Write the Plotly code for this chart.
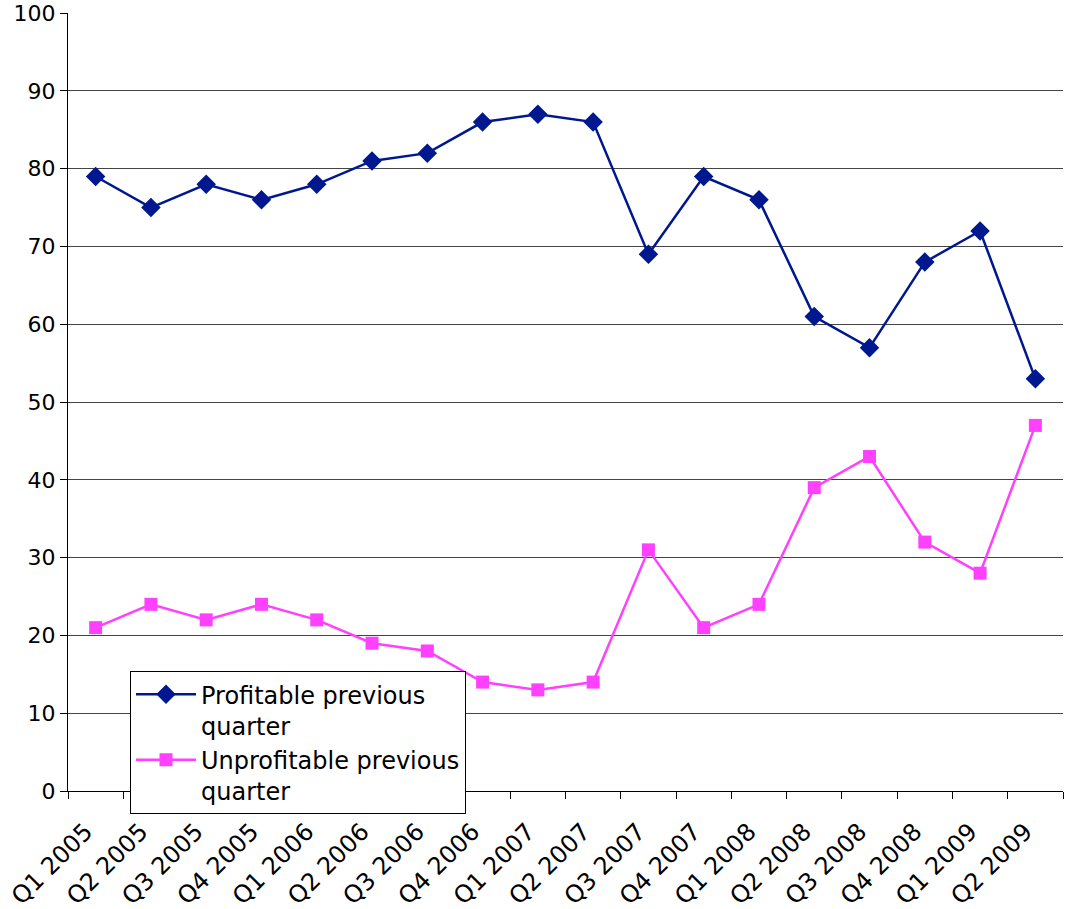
import plotly.graph_objects as go

quarters = ["Q1 2005", "Q2 2005", "Q3 2005", "Q4 2005", "Q1 2006", "Q2 2006",
            "Q3 2006", "Q4 2006", "Q1 2007", "Q2 2007", "Q3 2007", "Q4 2007",
            "Q1 2008", "Q2 2008", "Q3 2008", "Q4 2008", "Q1 2009", "Q2 2009"]
profitable = [79, 75, 78, 76, 78, 81, 82, 86, 87, 86, 69, 79, 76, 61, 57, 68, 72, 53]
unprofitable = [21, 24, 22, 24, 22, 19, 18, 14, 13, 14, 31, 21, 24, 39, 43, 32, 28, 47]

FONT = "Verdana, DejaVu Sans, sans-serif"
NAVY = "#00188F"
MAGENTA = "#FF40FF"

fig = go.Figure()
fig.add_trace(go.Scatter(
    x=quarters, y=profitable, mode="lines+markers",
    name="Profitable previous<br>quarter",
    line=dict(color=NAVY, width=2.5),
    marker=dict(symbol="diamond", size=15, color=NAVY),
))
fig.add_trace(go.Scatter(
    x=quarters, y=unprofitable, mode="lines+markers",
    name="Unprofitable previous<br>quarter",
    line=dict(color=MAGENTA, width=2.5),
    marker=dict(symbol="square", size=13, color=MAGENTA),
))

fig.update_layout(
    width=1065, height=909,
    margin=dict(l=68, r=2, t=13, b=118, autoexpand=False),
    paper_bgcolor="white", plot_bgcolor="white",
    font=dict(family=FONT, size=22, color="black"),
    showlegend=True,
    legend=dict(
        x=0.0623, y=0.154, xanchor="left", yanchor="top",
        bgcolor="white", bordercolor="black", borderwidth=1,
        font=dict(family=FONT, size=24, color="black"),
        valign="top", itemwidth=60,
    ),
    xaxis=dict(
        type="category", categoryorder="array", categoryarray=quarters,
        range=[-0.5, 17.5], tickson="boundaries", automargin=False,
        ticks="outside", ticklen=7, tickcolor="black", tickwidth=1,
        showline=True, linecolor="black", linewidth=1,
        showgrid=False, tickangle=-45, ticklabeloverflow="allow",
        ticklabelstandoff=16, ticklabelshift=-10,
        tickfont=dict(family=FONT, size=24, color="black"),
    ),
    yaxis=dict(
        range=[0, 100.02], dtick=10, tick0=0, automargin=False,
        ticks="outside", ticklen=7, tickcolor="black", tickwidth=1,
        showline=True, linecolor="black", linewidth=1,
        showgrid=True, gridcolor="#444444", gridwidth=1,
        zeroline=False, ticklabeloverflow="allow",
        tickfont=dict(family=FONT, size=22, color="black"),
    ),
)

fig.write_html(
    "out.html",
    config={"displayModeBar": False},
    post_script="document.body.style.margin='0';document.body.style.overflow='hidden';",
)
